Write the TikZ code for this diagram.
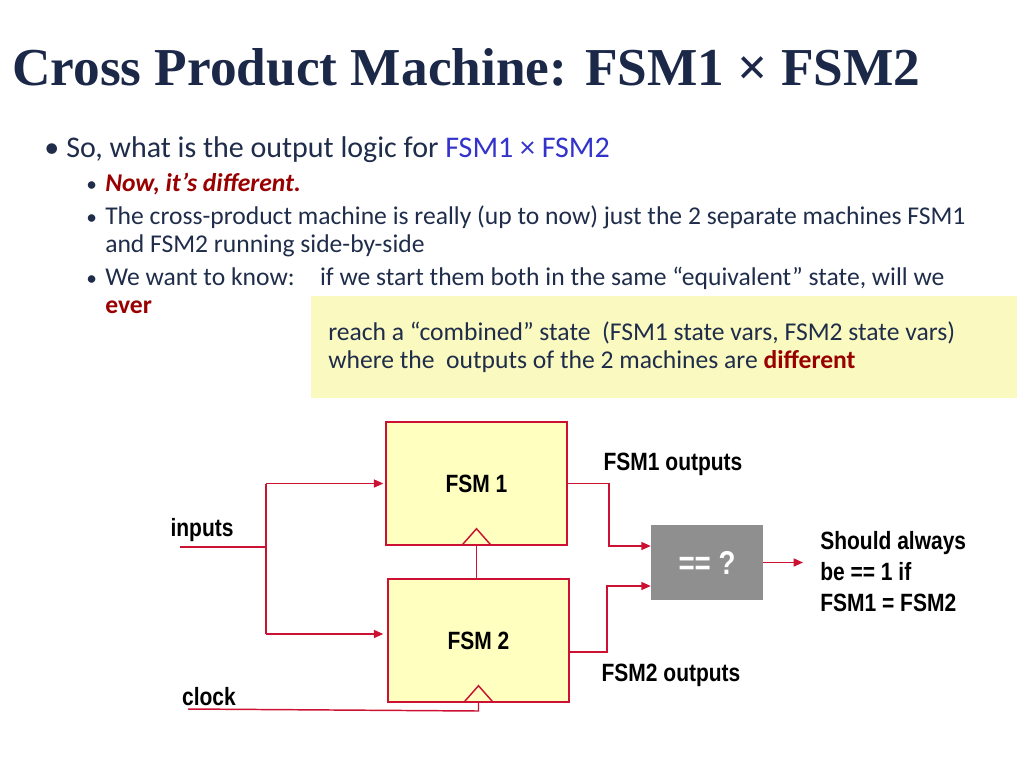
\documentclass[tikz,border=0pt]{standalone}
\usepackage{fontspec}
\setmainfont{Carlito}
\newfontfamily\titlefont{Liberation Serif}
\newfontfamily\arialn[FakeStretch=0.84]{Liberation Sans}
\usetikzlibrary{arrows.meta,calc}
\definecolor{navy}{RGB}{31,45,75}
\definecolor{titlec}{RGB}{27,40,72}
\definecolor{blu}{RGB}{51,51,204}
\definecolor{dred}{RGB}{153,0,0}
\definecolor{ybox}{RGB}{250,250,192}
\definecolor{fsmfill}{RGB}{255,255,192}
\definecolor{wire}{RGB}{204,17,51}
\definecolor{grayb}{RGB}{143,143,143}
\tikzset{
  txt/.style={inner sep=0pt, anchor=base west, text=navy},
  lvlone/.style={txt, font=\fontsize{22.5}{26}\selectfont},
  lvltwo/.style={txt, font=\fontsize{19.2}{22}\selectfont},
  bul/.style={txt, font=\fontsize{16}{18}\selectfont},
  fsmbox/.style={draw=wire, fill=fsmfill, line width=1.1pt, minimum width=135.75pt, minimum height=92.25pt, inner sep=0pt,
     font=\arialn\bfseries\fontsize{18.75}{22}\selectfont},
  wirel/.style={draw=wire, line width=1.1pt},
  arr/.style={wirel, -{Triangle[length=7pt,width=6pt]}},
  dlabel/.style={inner sep=0pt, font=\arialn\bfseries\fontsize{18.75}{23.25}\selectfont, text=black},
}
\begin{document}
\begin{tikzpicture}[x=0.75pt,y=-0.75pt]
\useasboundingbox (0,0) rectangle (1024,768);
% title
\node[inner sep=0pt, anchor=base west, text=titlec, font=\titlefont\bfseries\fontsize{40}{45}\selectfont] (title) at (12,85) {Cross Product Machine: FSM1 × FSM2};
% bullets
\node[lvlone] (b1) at (44,157) {•};
\node[lvlone] (t1) at (66,157) {So, what is the output logic for \textcolor{blu}{FSM1 × FSM2}};
\node[bul] (b2) at (86,191) {•};
\node[lvltwo, text=dred, font=\bfseries\itshape\fontsize{19.2}{22}\selectfont] (t2) at (105,191) {Now, it’s different.};
\node[bul] (b3) at (86,224) {•};
\node[lvltwo] (t3) at (105,224) {The cross-product machine is really (up to now) just the 2 separate machines FSM1};
\node[lvltwo] (t3b) at (105,252) {and FSM2 running side-by-side};
\node[bul] (b4) at (86,285) {•};
\node[lvltwo] (t4) at (105,285) {We want to know:\hspace{19pt}if we start them both in the same “equivalent” state, will we};
\node[lvltwo, text=dred, font=\bfseries\fontsize{19.2}{22}\selectfont] (t4b) at (105,313) {ever};
% yellow box
\node[fill=ybox, minimum width=529.5pt, minimum height=76.5pt, inner sep=0pt] (yb) at (664,347) {};
\node[lvltwo] (y1) at (328,340) {reach a “combined” state \ (FSM1 state vars, FSM2 state vars)};
\node[lvltwo] (y2) at (328,368) {where the \ outputs of the 2 machines are \textcolor{dred}{\bfseries different}};
% diagram
\node[fsmbox] (fsm1) at (476.5,483.5) {FSM 1};
\node[fsmbox] (fsm2) at (478.5,640.5) {FSM 2};
\node[fill=grayb, minimum width=84pt, minimum height=56.25pt, inner sep=0pt, text=white,
      font=\arialn\bfseries\fontsize{24.75}{28}\selectfont] (eq) at (707,562.5) {== ?};
% clock triangles
\draw[wirel] ($(fsm1.south)+(-15,0)$) -- ($(fsm1.south)+(0,-17)$) -- ($(fsm1.south)+(15,0)$);
\draw[wirel] ($(fsm2.south)+(-15,0)$) -- ($(fsm2.south)+(0,-17)$) -- ($(fsm2.south)+(15,0)$);
\draw[wirel] (fsm1.south) -- (fsm1.south |- fsm2.north);
% inputs
\coordinate (inL) at (180,547);
\coordinate (jn) at (266,547);
\coordinate (jtop) at (266,483.5);
\coordinate (jbot) at (266,634);
\draw[wirel] (inL) -- (jn);
\draw[wirel] (jtop) -- (jbot);
\draw[arr] (jtop) -- ($(fsm1.west)+(-2,0)$);
\draw[arr] (jbot) -- ($(fsm2.west)+(-4,-6.5)$);
% clock
\coordinate (clk) at (188,709);
\draw[wirel] (clk) -- (478.5,711) -- (fsm2.south);
% outputs
\draw[arr] (fsm1.east) -- (609,483.5) |- ($(eq.west)+(0,-16.5)$);
\draw[arr] ($(fsm2.east)+(0,11.5)$) -- (607,652) |- ($(eq.west)+(0,23.5)$);
\coordinate (outR) at (803,562.5);
\draw[arr] (eq.east) -- (outR);
% labels
\node[dlabel] (l1) at (673,464) {FSM1 outputs};
\node[dlabel] (l2) at (671,675) {FSM2 outputs};
\node[dlabel] (lin) at (202,530) {inputs};
\node[dlabel] (lclk) at (209,697) {clock};
\node[dlabel, anchor=west, align=left] (lres) at (820,572) {Should always\\be == 1 if\\FSM1 = FSM2};
\end{tikzpicture}
\end{document}
